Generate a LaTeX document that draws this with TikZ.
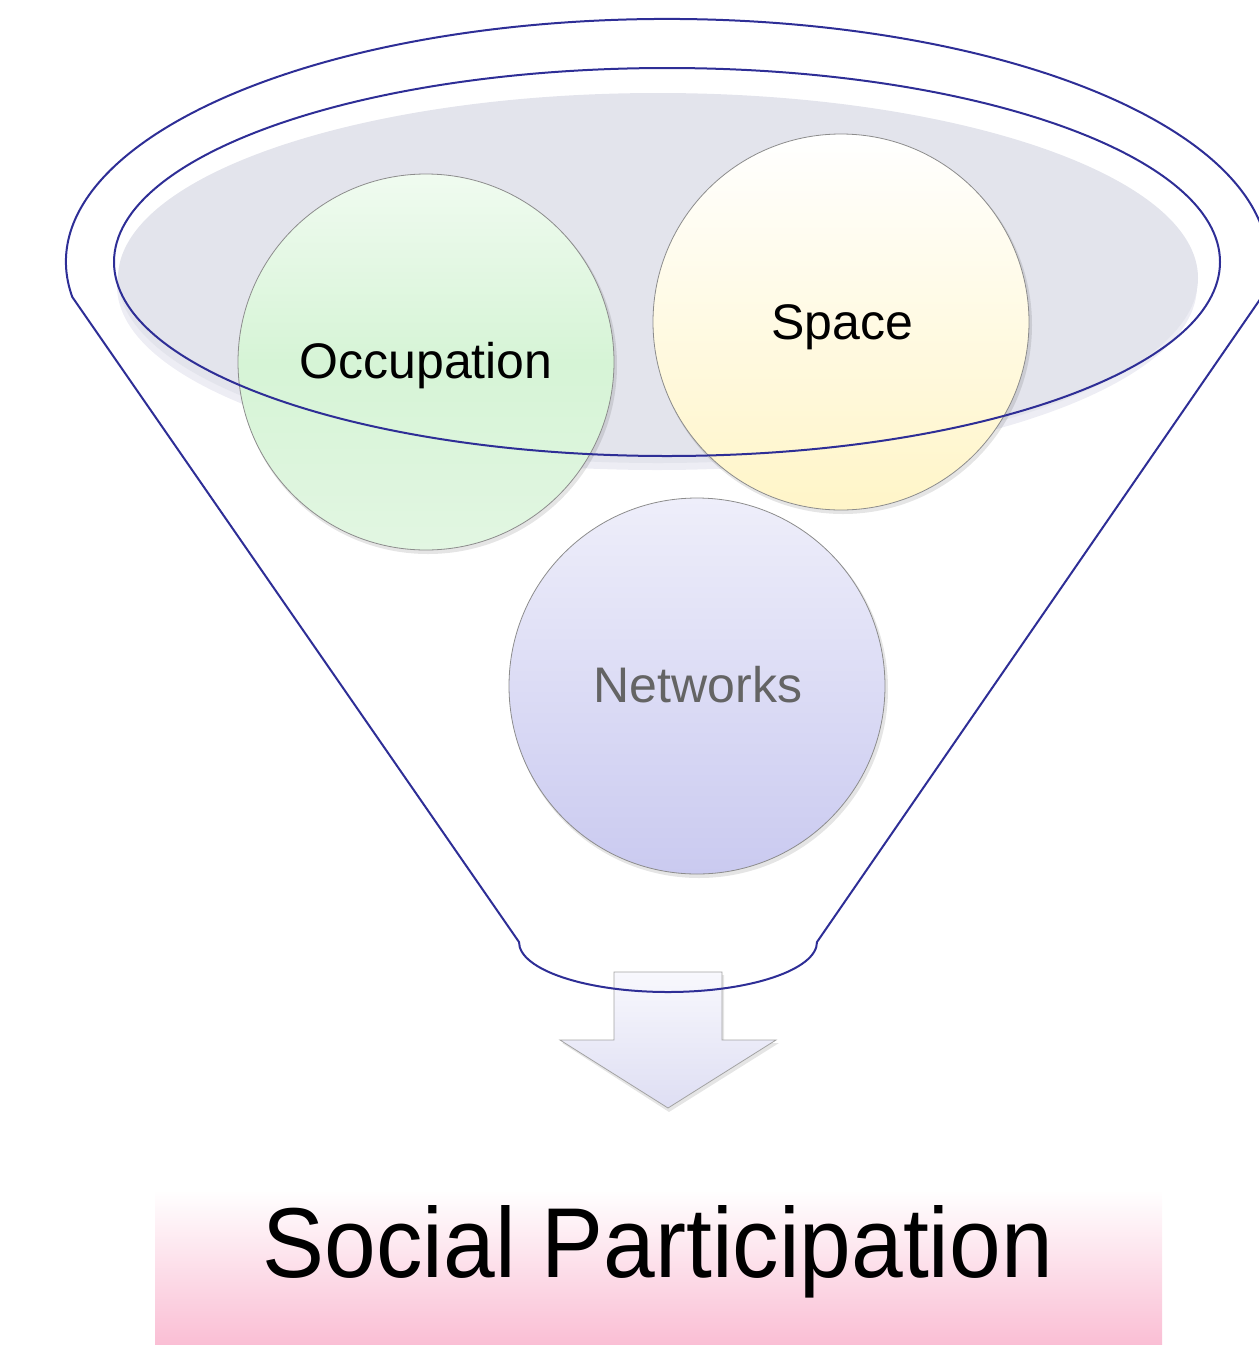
\documentclass[tikz,border=0pt]{standalone}
\usepackage{fontspec}
\setmainfont{Liberation Sans}
\usetikzlibrary{shapes.geometric}
\definecolor{funnelblue}{RGB}{46,46,150}
\definecolor{bowlgray}{RGB}{227,228,236}
\definecolor{bowllight}{RGB}{237,237,244}
\definecolor{occtop}{RGB}{240,251,240}
\definecolor{occmid}{RGB}{214,244,214}
\definecolor{occbot}{RGB}{226,246,226}
\definecolor{spctop}{RGB}{255,255,255}
\definecolor{spcbot}{RGB}{255,245,200}
\definecolor{nettop}{RGB}{238,238,250}
\definecolor{netbot}{RGB}{202,202,240}
\definecolor{rimgray}{RGB}{140,140,140}
\definecolor{nettext}{RGB}{100,100,100}
\definecolor{arrtop}{RGB}{248,248,253}
\definecolor{arrbot}{RGB}{222,222,243}
\definecolor{pinkbot}{RGB}{250,190,212}
\tikzset{
  bubble/.style={circle, minimum size=376pt, inner sep=0pt, draw=rimgray, line width=0.8pt},
  bubbleshadow/.style={circle, minimum size=378pt, inner sep=0pt, fill=black, fill opacity=0.10},
  bubbletext/.style={font=\fontsize{50}{60}\selectfont, anchor=base, inner sep=0pt},
  funnelline/.style={draw=funnelblue, line width=2pt, line join=round},
}
\begin{document}
\begin{tikzpicture}[x=1pt,y=-1pt]
\useasboundingbox (0,0) rectangle (1259,1345);
\clip (0,0) rectangle (1259,1345);
% bowl
\fill[bowllight] (657,286) ellipse [x radius=540, y radius=184];
\fill[bowlgray] (658,278) ellipse [x radius=540, y radius=185];
% shadows
\node[bubbleshadow] at (428,365) {};
\node[bubbleshadow] at (843,325) {};
\node[bubbleshadow] at (699,689) {};
% bubbles
\node[bubble, top color=occtop, bottom color=occbot, middle color=occmid] (occ) at (426,362) {};
\node[bubble, top color=spctop, bottom color=spcbot] (spc) at (841,322) {};
\node[bubble, top color=nettop, bottom color=netbot] (net) at (697,686) {};
\node[bubbletext] (occt) at (426,378) {Occupation};
\node[bubbletext] (spct) at (842,339) {Space};
\node[bubbletext, text=nettext] (nett) at (698,702) {Networks};
% arrow
\fill[black, opacity=0.10] (616,975) -- (724,975) -- (724,1043) -- (779,1043) -- (669,1112) -- (562,1043) -- (616,1043) -- cycle;
\path[top color=arrtop, bottom color=arrbot, draw=rimgray!80, line width=0.8pt]
  (614,972) -- (722,972) -- (722,1040) -- (776,1040) -- (668,1108) -- (560,1040) -- (614,1040) -- cycle;
\coordinate (arrtip) at (668,1108);
% funnel outlines
\draw[funnelline] (667,262) ellipse [x radius=553, y radius=194];
\draw[funnelline] (72.3,297) arc [start angle=171.7, end angle=368.3, x radius=601, y radius=243]
  -- (817,942) arc [start angle=0, end angle=180, x radius=149, y radius=50] -- cycle;
% result bar
\path[top color=white, bottom color=pinkbot] (155,1190) rectangle (1162,1345);
\node[font=\fontsize{92}{110}\selectfont, anchor=base, inner sep=0pt] (result) at (658,1277) {\scalebox{1.01}[1.08]{Social Participation}};
\end{tikzpicture}
\end{document}
